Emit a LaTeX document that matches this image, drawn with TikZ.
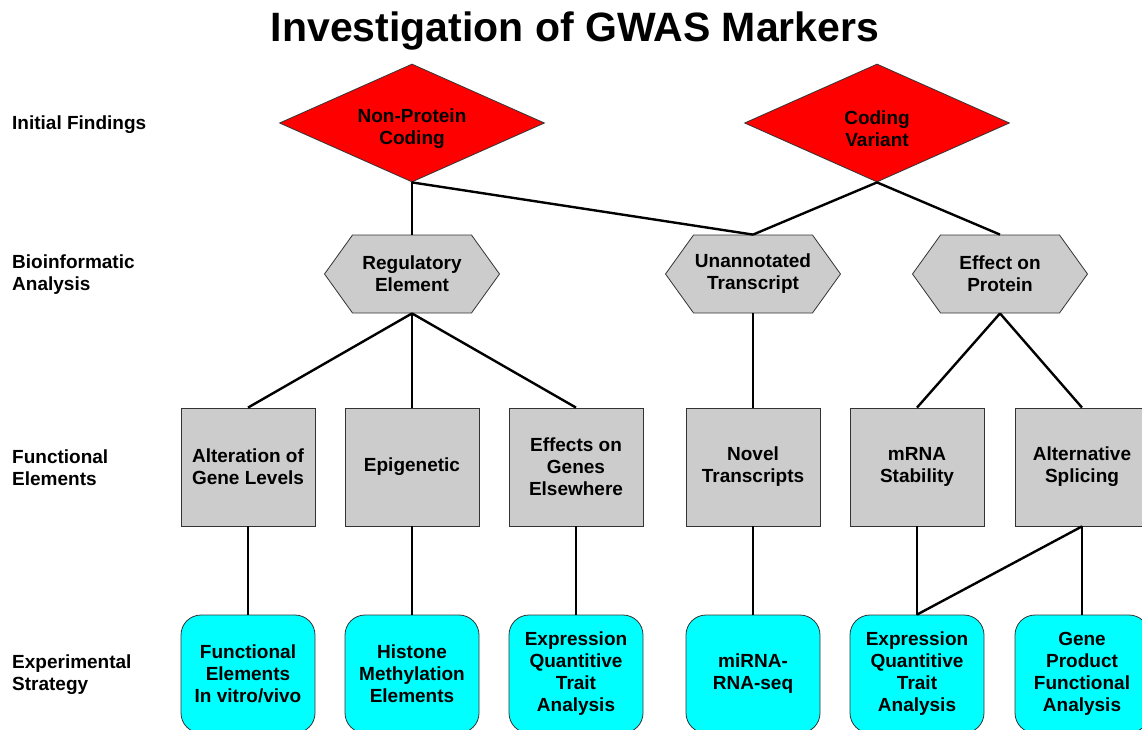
\documentclass[tikz,border=0pt]{standalone}
\usepackage{fontspec}
\setmainfont{Liberation Sans}
\usepackage{tikz}
\usetikzlibrary{shapes.geometric,shapes.symbols}
\definecolor{find}{HTML}{FF0000}
\definecolor{bio}{HTML}{CCCCCC}
\definecolor{expt}{HTML}{00FFFF}
\definecolor{edge}{HTML}{333333}
\tikzset{
  txt/.style={font=\fontsize{19}{22}\selectfont\bfseries, align=center, text=black},
  finding/.style={diamond, draw=edge, line width=0.8pt, fill=find, shape aspect=2.25,
    minimum width=265, minimum height=118, inner sep=0pt},
  analysis/.style={txt, signal, signal to=west and east, signal pointer angle=108.6,
    draw=edge, line width=0.8pt, fill=bio, minimum width=175, minimum height=78, inner sep=0pt},
  element/.style={txt, rectangle, draw=edge, line width=0.8pt, fill=bio,
    minimum width=134, minimum height=118, inner sep=0pt},
  strategy/.style={txt, rectangle, rounded corners=20, draw=edge, line width=0.8pt, fill=expt,
    minimum width=134, minimum height=118, inner sep=0pt},
  row/.style={txt, align=left, anchor=west, inner sep=0pt},
  link/.style={draw=black, line width=2.4pt},
}
\begin{document}
\begin{tikzpicture}[x=1pt, y=-1pt]
  \useasboundingbox (0,0) rectangle (1142,730);
  \clip (0,0) rectangle (1142,730);
  % title and row labels
  \node[font=\fontsize{41}{45}\selectfont\bfseries] (title) at (575,31) {Investigation of GWAS Markers};
  \node[row] (rowfind) at (12,125) {Initial Findings};
  \node[row] (rowbio) at (12,275) {Bioinformatic\\Analysis};
  \node[row] (rowel) at (12,468) {Functional\\Elements};
  \node[row] (rowexp) at (12,675) {Experimental\\Strategy};
  % initial findings
  \node[finding, label={[txt, yshift=-6]center:{Non-Protein\\Coding}}] (nonprot) at (412,123) {};
  \node[finding, label={[txt, yshift=-6]center:{Coding\\Variant}}] (coding) at (877,123) {};
  % bioinformatic analysis
  \node[analysis] (regul) at (412,274) {Regulatory\\Element};
  \node[analysis] (unann) at (753,274) {Unannotated\\Transcript};
  \node[analysis] (effprot) at (1000,274) {Effect on\\Protein};
  % functional elements
  \node[element] (altgene) at (248,467) {Alteration of\\Gene Levels};
  \node[element] (epigen) at (412,467) {Epigenetic};
  \node[element] (effgenes) at (576,467) {Effects on\\Genes\\Elsewhere};
  \node[element] (novel) at (753,467) {Novel\\Transcripts};
  \node[element] (mrna) at (917,467) {mRNA\\Stability};
  \node[element] (altsplice) at (1082,467) {Alternative\\Splicing};
  % experimental strategy
  \node[strategy] (funcel) at (248,674) {Functional\\Elements\\In vitro/vivo};
  \node[strategy] (histone) at (412,674) {Histone\\Methylation\\Elements};
  \node[strategy] (eqta) at (576,674) {Expression\\Quantitive\\Trait\\Analysis};
  \node[strategy] (mirna) at (753,674) {miRNA-\\RNA-seq};
  \node[strategy] (eqtb) at (917,674) {Expression\\Quantitive\\Trait\\Analysis};
  \node[strategy] (geneprod) at (1082,674) {Gene\\Product\\Functional\\Analysis};
  % links
  \draw[link] (nonprot.south) -- (regul.north);
  \draw[link] (nonprot.south) -- (unann.north);
  \draw[link] (coding.south) -- (unann.north);
  \draw[link] (coding.south) -- (effprot.north);
  \foreach \kid in {altgene,epigen,effgenes}
    \draw[link] (regul.south) -- (\kid.north);
  \draw[link] (unann.south) -- (novel.north);
  \foreach \kid in {mrna,altsplice}
    \draw[link] (effprot.south) -- (\kid.north);
  \draw[link] (altgene.south) -- (funcel.north);
  \draw[link] (epigen.south) -- (histone.north);
  \draw[link] (effgenes.south) -- (eqta.north);
  \draw[link] (novel.south) -- (mirna.north);
  \draw[link] (mrna.south) -- (eqtb.north);
  \draw[link] (altsplice.south) -- (eqtb.north);
  \draw[link] (altsplice.south) -- (geneprod.north);
\end{tikzpicture}
\end{document}
